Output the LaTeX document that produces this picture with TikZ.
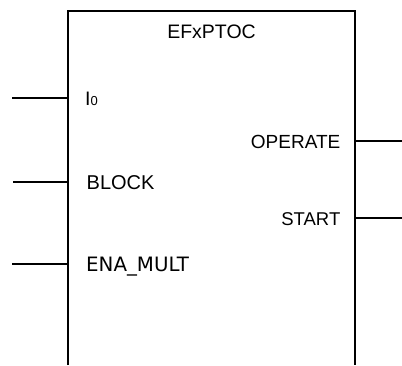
\documentclass[tikz,border=0pt]{standalone}
\usepackage{fontspec}
\setmainfont{Liberation Sans}
\newfontfamily\dejavu{DejaVu Sans}
\begin{document}
\begin{tikzpicture}[x=1pt,y=1pt,
  wire/.style={line width=1.7pt},
  lbl/.style={inner sep=0pt,font=\fontsize{19}{22}\selectfont}]
\useasboundingbox (0,0) rectangle (402,365);
% box outline (open bottom)
\coordinate (bl) at (68,0);
\coordinate (tl) at (68,354);
\coordinate (tr) at (355,354);
\coordinate (br) at (355,0);
\draw[wire, line join=miter] (bl) -- (tl) -- (tr) -- (br);
% pin points on box
\coordinate (pI0) at (68,266.7);
\coordinate (pBLK) at (68,182.7);
\coordinate (pENA) at (68,100.7);
\coordinate (pOP) at (355,224.3);
\coordinate (pST) at (355,146.7);
% free ends
\coordinate (eI0) at (12,266.7);
\coordinate (eBLK) at (13,182.7);
\coordinate (eENA) at (12,100.7);
\coordinate (eOP) at (402,224.3);
\coordinate (eST) at (402,146.7);
\draw[wire] (eI0) -- (pI0);
\draw[wire] (eBLK) -- (pBLK);
\draw[wire] (eENA) -- (pENA);
\draw[wire] (pOP) -- (eOP);
\draw[wire] (pST) -- (eST);
% labels
\node[lbl, anchor=base, font=\fontsize{19.5}{22}\selectfont] (title) at (211.5,326.3) {EFxPTOC};
\node[lbl, anchor=base west, font=\fontsize{19.5}{22}\selectfont] (lI0) at (85,259) {I{\fontsize{13}{13}\selectfont 0}};
\node[lbl, anchor=base west, font=\fontsize{20}{22}\selectfont] (lBLK) at (86.5,176) {BLOCK};
\node[lbl, anchor=base west, font=\dejavu\fontsize{19.8}{22}\selectfont] (lENA) at (86,94) {ENA\_MULT};
\node[lbl, anchor=base east] (lOP) at (340.5,216) {OPERATE};
\node[lbl, anchor=base east, font=\fontsize{18.5}{22}\selectfont] (lST) at (340.5,140) {START};
\end{tikzpicture}
\end{document}
